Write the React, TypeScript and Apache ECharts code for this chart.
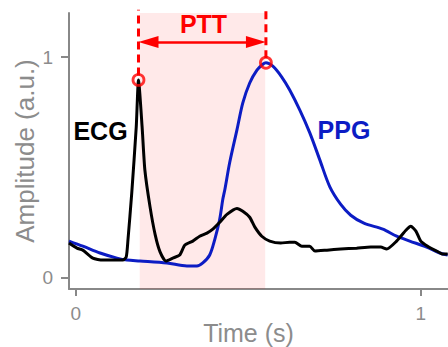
import React, { useEffect, useRef } from "react";
import * as echarts from "echarts";

const ecg: [number, number][] = [
  [-0.02, 0.158], [0.003, 0.135], [0.02, 0.126], [0.049, 0.09], [0.078, 0.081],
  [0.107, 0.081], [0.136, 0.081], [0.146, 0.095], [0.151, 0.172], [0.162, 0.385],
  [0.175, 0.684], [0.1815, 0.897], [0.192, 0.684], [0.2, 0.489], [0.215, 0.322],
  [0.23, 0.195], [0.244, 0.118], [0.261, 0.077], [0.281, 0.09], [0.301, 0.104],
  [0.316, 0.149], [0.339, 0.167], [0.359, 0.189], [0.38, 0.203], [0.397, 0.221],
  [0.417, 0.252], [0.438, 0.288], [0.467, 0.315], [0.484, 0.302], [0.504, 0.275],
  [0.519, 0.23], [0.539, 0.189], [0.562, 0.167], [0.594, 0.158], [0.62, 0.162],
  [0.635, 0.162], [0.655, 0.144], [0.678, 0.144], [0.693, 0.122], [0.728, 0.126],
  [0.768, 0.131], [0.814, 0.135], [0.855, 0.14], [0.884, 0.14], [0.901, 0.131],
  [0.93, 0.167], [0.957, 0.216], [0.971, 0.234], [0.986, 0.212], [1.0, 0.167],
  [1.02, 0.144], [1.046, 0.122], [1.064, 0.108], [1.078, 0.108],
];

const ppg: [number, number][] = [
  [-0.02, 0.167], [0.02, 0.144], [0.07, 0.113], [0.119, 0.09], [0.148, 0.081],
  [0.186, 0.077], [0.264, 0.068], [0.322, 0.054], [0.351, 0.054], [0.368, 0.068],
  [0.388, 0.104], [0.403, 0.176], [0.417, 0.266], [0.426, 0.356], [0.432, 0.401],
  [0.446, 0.523], [0.467, 0.671], [0.484, 0.793], [0.504, 0.883], [0.525, 0.941],
  [0.542, 0.968], [0.551, 0.975], [0.571, 0.959], [0.597, 0.91], [0.62, 0.851],
  [0.649, 0.761], [0.678, 0.658], [0.707, 0.536], [0.736, 0.414], [0.768, 0.333],
  [0.797, 0.284], [0.835, 0.248], [0.89, 0.221], [0.93, 0.189], [0.968, 0.167],
  [1.017, 0.14], [1.055, 0.113], [1.078, 0.104],
];

const ecgPeak: [number, number] = [0.1815, 0.897];
const ppgPeak: [number, number] = [0.551, 0.975];
const pttRange: [number, number] = [0.185, 0.549];
const arrowY = 1.069;
const arrowInset = 0.029;
const dashTop = 1.215;
const tickValues = [0, 1];

const RED = "#ff0000";
const BLUE = "#0c1cc4";
const GREY = "#888888";
const LABEL = "#8c8c8c";
const FONT = "Liberation Sans, Arial, sans-serif";

export default function App() {
  const ref = useRef<HTMLDivElement>(null);
  useEffect(() => {
    if (!ref.current) return;
    const chart = echarts.init(ref.current, null, { renderer: "svg" });
    chart.setOption({
      animation: false,
      textStyle: { fontFamily: FONT },
      grid: { left: 69, right: 0, top: 13, bottom: 58, containLabel: false, outerBoundsMode: "none" },
      xAxis: {
        type: "value",
        min: -0.02,
        max: 1.079,
        splitLine: { show: false },
        axisLine: { onZero: false, lineStyle: { color: GREY, width: 2 } },
        axisTick: { length: 7, customValues: tickValues, lineStyle: { color: GREY, width: 2 } },
        axisLabel: { customValues: tickValues, color: LABEL, fontSize: 19, margin: 15, fontFamily: FONT },
        name: "Time (s)",
        nameLocation: "middle",
        nameGap: 31,
        nameMoveOverlap: false,
        nameTextStyle: { color: LABEL, fontSize: 25, fontFamily: FONT, padding: [0, 20, 0, 0] },
      },
      yAxis: {
        type: "value",
        min: -0.05,
        max: 1.2,
        splitLine: { show: false },
        axisLine: { show: true, onZero: false, lineStyle: { color: GREY, width: 2 } },
        axisTick: { show: true, length: 8, customValues: tickValues, lineStyle: { color: GREY, width: 2 } },
        axisLabel: { customValues: tickValues, color: LABEL, fontSize: 19, margin: 16, fontFamily: FONT },
        name: "Amplitude (a.u.)",
        nameLocation: "middle",
        nameGap: 31,
        nameMoveOverlap: false,
        nameTextStyle: { color: LABEL, fontSize: 26, fontFamily: FONT },
      },
      series: [
        {
          type: "line",
          data: [],
          z: 1,
          markArea: {
            silent: true,
            itemStyle: { color: "rgba(255,0,0,0.085)" },
            data: [[{ xAxis: pttRange[0] }, { xAxis: pttRange[1] }]],
          },
        },
        {
          type: "line",
          data: ppg,
          showSymbol: false,
          smooth: 0.3,
          z: 3,
          lineStyle: { color: BLUE, width: 3 },
        },
        {
          type: "line",
          data: ecg,
          showSymbol: false,
          smooth: 0.2,
          z: 4,
          lineStyle: { color: "#000000", width: 3 },
        },
        {
          type: "line",
          data: [[ecgPeak[0], ecgPeak[1] + 0.02], [ecgPeak[0], dashTop]],
          showSymbol: false,
          clip: false,
          z: 5,
          lineStyle: { color: RED, width: 3, type: [8, 5] },
        },
        {
          type: "line",
          data: [[ppgPeak[0], ppgPeak[1] + 0.02], [ppgPeak[0], dashTop]],
          showSymbol: false,
          clip: false,
          z: 5,
          lineStyle: { color: RED, width: 3, type: [8, 5] },
        },
        {
          type: "scatter",
          data: [ecgPeak, ppgPeak],
          symbol: "circle",
          symbolSize: 11,
          z: 6,
          itemStyle: { color: "rgba(0,0,0,0)", borderColor: RED, borderWidth: 2.8 },
          markLine: {
            silent: true,
            symbol: ["triangle", "triangle"],
            symbolSize: [12, 20],
            label: { show: false },
            lineStyle: { color: RED, width: 2.5, type: "solid" },
            data: [[
              { coord: [ecgPeak[0] + arrowInset, arrowY] },
              { coord: [ppgPeak[0] - arrowInset, arrowY] },
            ]],
          },
        },
      ],
      graphic: [
        {
          type: "text",
          x: 203.5,
          y: 24,
          style: { text: "PTT", fill: RED, font: `bold 25px ${FONT}`, textAlign: "center", textVerticalAlign: "middle" },
        },
        {
          type: "text",
          x: 100.5,
          y: 131,
          style: { text: "ECG", fill: "#000000", font: `bold 25px ${FONT}`, textAlign: "center", textVerticalAlign: "middle" },
        },
        {
          type: "text",
          x: 344,
          y: 130,
          style: { text: "PPG", fill: BLUE, font: `bold 25px ${FONT}`, textAlign: "center", textVerticalAlign: "middle" },
        },
      ],
    });
    return () => chart.dispose();
  }, []);
  return (
    <div
      ref={ref}
      style={{ position: "fixed", left: 0, top: 0, width: 448, height: 347, background: "#ffffff" }}
    />
  );
}
